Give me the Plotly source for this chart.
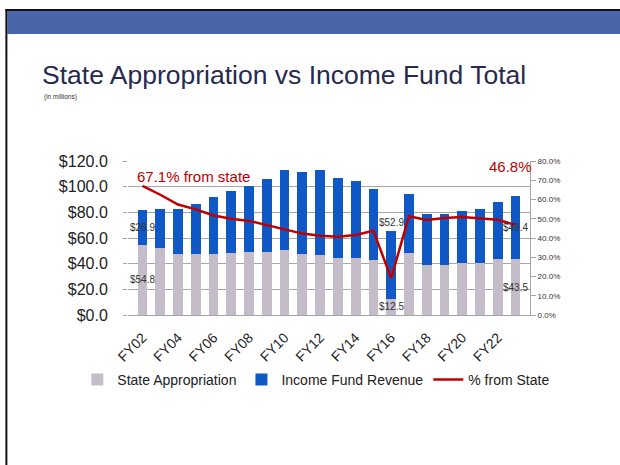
import plotly.graph_objects as go

# fiscal years shown on the x axis
years = ["FY%02d" % y for y in range(2, 24)]

# state appropriation ($ millions)
state_approp = [54.8, 52.0, 47.5, 47.5, 47.5, 48.3, 49.4, 49.4, 50.7, 47.3, 46.8,
                44.2, 44.2, 42.9, 12.5, 48.6, 38.7, 39.2, 40.8, 40.8, 43.4, 43.5]

# income fund revenue ($ millions)
income_rev = [26.9, 30.6, 35.4, 39.0, 44.2, 48.3, 51.4, 56.3, 62.3, 64.4, 66.5,
              62.8, 60.5, 55.1, 52.9, 45.7, 39.8, 39.3, 40.5, 41.6, 44.4, 49.4]

# share of total that came from the state (%)
pct_state = [67.1, 62.5, 57.4, 54.9, 51.7, 50.0, 48.9, 46.7, 44.7, 42.3, 41.2,
             40.7, 41.6, 43.8, 19.1, 51.3, 49.4, 50.4, 50.9, 50.2, 49.5, 46.8]

x_ticks = years[::2]

# plot area in pixels (used to place decorations)
L, R, T, B = 127.7, 530.0, 161.0, 315.0
W, H = 620, 465


def px_x(p):
    return (p - L) / (R - L)


def px_y(p):
    return (B - p) / (B - T)


FONT = "Liberation Sans, Arial, sans-serif"

fig = go.Figure()

fig.add_trace(go.Bar(
    x=years, y=state_approp, name="State Appropriation",
    marker=dict(color="#C4BDC9", line=dict(width=0)),
))
fig.add_trace(go.Bar(
    x=years, y=income_rev, name="Income Fund Revenue",
    marker=dict(color="#1058C6", line=dict(width=0)),
))
fig.add_trace(go.Scatter(
    x=years, y=[p / 100 for p in pct_state], name="% from State",
    mode="lines", line=dict(color="#C00000", width=2.5),
    yaxis="y2",
))

# value labels on a few bars
labels = []
for i in [0, 21]:
    labels.append(dict(x=years[i], y=state_approp[i] / 2, text="$%.1f" % state_approp[i]))
    labels.append(dict(x=years[i], y=state_approp[i] + income_rev[i] / 2, text="$%.1f" % income_rev[i]))
labels.append(dict(x=years[14], y=state_approp[14] / 2, text="$%.1f" % state_approp[14]))
labels.append(dict(x=years[14], y=state_approp[14] + income_rev[14], text="$%.1f" % income_rev[14],
                   yanchor="bottom", yshift=1))

annotations = []
for lb in labels:
    a = dict(xref="x", yref="y", showarrow=False,
             font=dict(family=FONT, size=10, color="#333333"))
    a.update(lb)
    annotations.append(a)

annotations += [
    dict(xref="paper", yref="paper", x=px_x(135), y=px_y(176), xanchor="left", yanchor="middle",
         text="67.1% from state", showarrow=False, font=dict(family=FONT, size=15, color="#C00000")),
    dict(xref="paper", yref="paper", x=px_x(534), y=px_y(166.5), xanchor="right", yanchor="middle",
         text="46.8%", showarrow=False, font=dict(family=FONT, size=15, color="#C00000")),
    dict(xref="paper", yref="paper", x=px_x(42), y=px_y(97.5), xanchor="left", yanchor="middle",
         text="(in millions)", showarrow=False, font=dict(family=FONT, size=6.5, color="#333333")),
]

# slide frame: black border lines and blue header band
shapes = [
    dict(type="rect", xref="paper", yref="paper", x0=px_x(7), x1=px_x(621), y0=px_y(34), y1=px_y(11),
         fillcolor="#4A66AB", line=dict(width=0), layer="below"),
    dict(type="rect", xref="paper", yref="paper", x0=px_x(5), x1=px_x(621), y0=px_y(11), y1=px_y(9),
         fillcolor="#111111", line=dict(width=0), layer="below"),
    dict(type="rect", xref="paper", yref="paper", x0=px_x(5), x1=px_x(7), y0=px_y(466), y1=px_y(9),
         fillcolor="#111111", line=dict(width=0), layer="below"),
]

fig.update_layout(
    width=W, height=H,
    margin=dict(l=L, r=W - R, t=T, b=H - B, pad=0),
    paper_bgcolor="white", plot_bgcolor="white",
    barmode="stack", bargap=0.45,
    font=dict(family=FONT, color="#222222"),
    title=dict(text="State Appropriation vs Income Fund Total", xref="container", yref="container",
               x=42 / W, y=1 - 75 / H, xanchor="left", yanchor="middle",
               font=dict(family=FONT, size=26.5, color="#262A50")),
    xaxis=dict(
        tickmode="array", tickvals=x_ticks, ticktext=x_ticks, tickangle=-45,
        tickfont=dict(size=14, color="#222222"), ticklabelstandoff=8,
        showline=True, linecolor="#A6A6A6", linewidth=1, showgrid=False, ticks="",
    ),
    yaxis=dict(
        range=[0, 120.05], tickvals=[0, 20, 40, 60, 80, 100, 120],
        tickformat="$.1f", tickfont=dict(size=16, color="#222222"),
        showgrid=True, gridcolor="#A6A6A6", gridwidth=1, zeroline=False,
        ticks="outside", ticklen=4, tickcolor="#A6A6A6", ticklabelstandoff=12,
    ),
    yaxis2=dict(
        overlaying="y", side="right", range=[0, 0.8004],
        tickvals=[i / 10 for i in range(9)], tickformat=".1%",
        tickfont=dict(size=8, color="#333333"),
        showgrid=False, zeroline=False,
        showline=True, linecolor="#A6A6A6", linewidth=1,
        ticks="outside", ticklen=5, tickcolor="#A6A6A6",
    ),
    legend=dict(orientation="h", x=px_x(77), y=px_y(380), xanchor="left", yanchor="middle",
                font=dict(size=14, color="#222222"), itemwidth=30, traceorder="normal"),
    annotations=annotations,
    shapes=shapes,
)

# drop the browser's default page margin so the figure sits at the window corner
fig.write_html("out.html", config={"displayModeBar": False},
               post_script="document.body.style.margin='0';")
